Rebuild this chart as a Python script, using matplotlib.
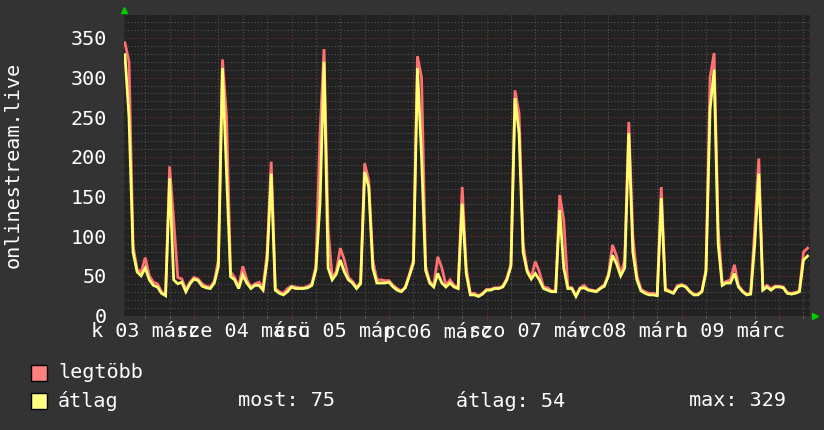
import matplotlib
matplotlib.use("Agg")
import matplotlib.pyplot as plt
import matplotlib.transforms as mtransforms
from matplotlib.patches import Rectangle
import numpy as np

# hours since márc 03 00:00, one sample per hour
start_hour = 7
avg = [329, 250, 80, 55, 50, 60, 45, 38, 36, 28, 25, 173, 45, 40, 42, 30, 40, 46,
       44, 37, 35, 34, 41, 62, 312, 180, 49, 45, 34, 51, 41, 34, 38, 38, 32, 70,
       179, 32, 28, 26, 30, 36, 34, 34, 34, 35, 38, 58, 141, 320, 60, 45, 52, 70,
       55, 45, 41, 34, 40, 181, 162, 60, 41, 41, 41, 42, 36, 32, 30, 35, 50, 66,
       312, 200, 57, 41, 36, 53, 41, 36, 41, 36, 34, 141, 53, 26, 26, 24, 27, 32,
       32, 34, 34, 36, 45, 62, 274, 230, 80, 55, 46, 53, 45, 34, 32, 30, 30, 133,
       60, 34, 34, 24, 34, 35, 32, 31, 30, 34, 37, 50, 76, 65, 50, 60, 230, 80,
       45, 31, 28, 26, 26, 25, 148, 32, 30, 28, 36, 38, 36, 30, 26, 26, 30, 55,
       260, 310, 90, 38, 41, 41, 53, 36, 30, 26, 27, 90, 179, 32, 36, 32, 36, 36,
       35, 28, 27, 28, 30, 70, 75]
peak = [344, 320, 88, 58, 55, 73, 50, 42, 40, 30, 26, 188, 120, 48, 46, 33, 42, 48,
        46, 40, 37, 36, 43, 70, 323, 251, 55, 48, 36, 62, 45, 36, 40, 42, 35, 80,
        194, 34, 30, 28, 34, 37, 36, 35, 35, 37, 40, 62, 228, 336, 110, 48, 55, 85,
        70, 48, 43, 36, 42, 192, 170, 70, 45, 45, 44, 44, 38, 34, 31, 36, 52, 70,
        327, 300, 62, 43, 38, 74, 60, 38, 45, 38, 35, 162, 60, 28, 28, 25, 28, 33,
        33, 35, 35, 37, 47, 65, 284, 255, 90, 58, 48, 68, 55, 36, 35, 31, 31, 152,
        120, 36, 35, 25, 35, 38, 33, 32, 31, 35, 39, 52, 89, 75, 52, 70, 244, 100,
        50, 33, 30, 28, 28, 27, 162, 34, 31, 29, 38, 39, 37, 31, 27, 27, 31, 58,
        300, 331, 110, 40, 43, 45, 64, 38, 31, 27, 28, 110, 198, 34, 38, 34, 37, 37,
        36, 29, 28, 29, 31, 80, 85]
day_labels = ["k 03 márc", "sze 04 márc", "csü 05 márc", "p 06 márc",
              "szo 07 márc", "v 08 márc", "h 09 márc"]
legend_names = ["legtöbb", "átlag"]
stats = ["most: 75", "átlag: 54", "max: 329"]

hours = np.arange(start_hour, start_hour + len(avg))

W, H = 824, 430
bg = "#333333"
plot_bg = "#222222"
font = "DejaVu Sans Mono"
fs = 14.5

fig = plt.figure(figsize=(W / 100, H / 100), dpi=100, facecolor=bg)
ax = fig.add_axes([124 / W, 1 - 315.5 / H, 686 / W, 300.5 / H])
ax.set_facecolor(plot_bg)

ax.set_xlim(6.77, 175.6)
ax.set_ylim(0, 379)

# grid: grey every 6h / 10 units, red every day / 50 units
ax.set_xticks(np.arange(24, 175, 24))
ax.set_xticks(np.arange(12, 175, 6), minor=True)
ax.set_yticks(np.arange(0, 351, 50))
ax.set_yticks(np.arange(10, 379, 10), minor=True)
ax.grid(which="minor", color="#555555", linestyle=(0, (1, 2)), linewidth=0.8)
ax.grid(which="major", color="#7a2e2e", linestyle=(0, (1, 2)), linewidth=0.8)
ax.set_axisbelow(True)

ax.tick_params(axis="x", which="major", length=3, color="#7a2e2e", labelbottom=False)
ax.tick_params(axis="x", which="minor", length=2, color="#666666", labelbottom=False)
ax.tick_params(axis="y", which="major", length=0, pad=12, labelsize=fs,
               labelcolor="white")
ax.tick_params(axis="y", which="minor", length=0)
for lbl in ax.get_yticklabels():
    lbl.set_fontfamily(font)
for s in ax.spines.values():
    s.set_visible(False)

ax.plot(hours, peak, color="#ff7070", linewidth=2.0, solid_joinstyle="miter")
ax.plot(hours, avg, color="#ffff70", linewidth=2.0, solid_joinstyle="miter")

# day labels centred at noon
trans = mtransforms.blended_transform_factory(ax.transData, ax.transAxes)
for i, lab in enumerate(day_labels):
    ax.text(12 + 24 * i, -0.022, lab, transform=trans, ha="center", va="top",
            color="white", fontsize=fs, family=font)

ax.set_ylabel("onlinestream.live", color="white", fontsize=fs, family=font)
ax.yaxis.set_label_coords(-(124 - 23) / 686, 0.5)

# green axis arrows
ax.plot([0], [1.018], transform=ax.transAxes, marker="^", color="#00cc00",
        markersize=5, clip_on=False)
ax.plot([1.0075], [0], transform=ax.transAxes, marker=">", color="#00cc00",
        markersize=5, clip_on=False)

# legend
for i, (name, col) in enumerate(zip(legend_names, ["#ff8080", "#ffff80"])):
    y_top = 365 + 28 * i
    fig.add_artist(Rectangle((31 / W, 1 - (y_top + 16) / H), 16 / W, 16 / H,
                             transform=fig.transFigure, facecolor=col,
                             edgecolor="black", linewidth=1))
    fig.text(58 / W, 1 - (y_top + 8) / H, name, color="white", fontsize=fs,
             family=font, va="center", ha="left")

for x0, txt in zip([238, 456, 689], stats):
    fig.text(x0 / W, 1 - 401 / H, txt, color="white", fontsize=fs,
             family=font, va="center", ha="left")

fig.savefig("out.png", dpi=100, facecolor=bg)
